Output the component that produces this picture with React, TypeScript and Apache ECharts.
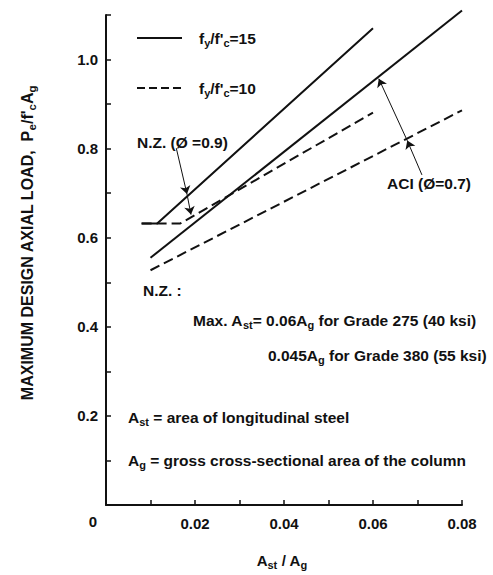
import React, { useEffect, useRef } from 'react';
import * as echarts from 'echarts';

const SERIES_15 = "fy/f'c=15";
const SERIES_10 = "fy/f'c=10";

// N.Z. (phi = 0.9) curves
const nzX15 = [0.008, 0.0115, 0.06];
const nzY15 = [0.632, 0.632, 1.07];
const nzX10 = [0.008, 0.0167, 0.06];
const nzY10 = [0.632, 0.632, 0.881];
// ACI (phi = 0.7) lines
const aciX15 = [0.01, 0.08];
const aciY15 = [0.555, 1.11];
const aciX10 = [0.01, 0.08];
const aciY10 = [0.527, 0.886];

const xTickLabels = ['0.02', '0.04', '0.06', '0.08'];
const yTickLabels = ['0.2', '0.4', '0.6', '0.8', '1.0'];

// arrow polylines (data coords): label -> first line -> second line
const nzArrowX = [0.0158, 0.0182, 0.0191];
const nzArrowY = [0.801, 0.698, 0.652];
const aciArrowX = [0.071, 0.0677, 0.0613];
const aciArrowY = [0.741, 0.818, 0.957];

const INK = '#111';
const FONT = '"Liberation Sans", Arial, Helvetica, sans-serif';
const FS = 15.5;
const SUB = 11;

const makeRich = (fs: number, sub: number) => ({
  n: { fontSize: fs, fontWeight: 'bold', fontFamily: FONT, fill: INK, color: INK },
  s: { fontSize: sub, fontWeight: 'bold', fontFamily: FONT, fill: INK, color: INK, padding: [9, 0, 0, 0] },
});
const rich = makeRich(FS, SUB);

// build rich text: pieces marked with "_" are subscripts
function rt(parts: string[]): string {
  return parts
    .map((p) => (p.startsWith('_') ? `{s|${p.slice(1)}}` : `{n|${p}}`))
    .join('');
}

const pairs = (xs: number[], ys: number[]) => xs.map((x, i) => [x, ys[i]]);

function txt(x: number, y: number, parts: string[], align = 'left', rotation = 0, fs = FS, sub = SUB) {
  return {
    type: 'text',
    x,
    y,
    rotation,
    silent: true,
    style: {
      text: rt(parts),
      rich: makeRich(fs, sub),
      align,
      verticalAlign: 'middle',
      fill: INK,
      fontFamily: FONT,
      fontWeight: 'bold',
      fontSize: fs,
    },
  };
}

export default function App() {
  const ref = useRef<HTMLDivElement>(null);
  useEffect(() => {
    document.body.style.margin = '0';
    const chart = echarts.init(ref.current!, null, { renderer: 'svg' });
    const axisText = { color: INK, fontFamily: FONT, fontWeight: 'bold' as const, fontSize: 15 };
    const arrowSeg = (xs: number[], ys: number[]) => [
      [{ coord: [xs[0], ys[0]] }, { coord: [xs[1], ys[1]] }],
      [{ coord: [xs[1], ys[1]] }, { coord: [xs[2], ys[2]] }],
    ];
    chart.setOption({
      animation: false,
      color: [INK],
      backgroundColor: '#fff',
      grid: { left: 106, right: 31, top: 15, bottom: 70 },
      legend: {
        orient: 'vertical',
        left: 131,
        top: 25,
        itemWidth: 45,
        itemHeight: 14,
        itemGap: 32,
        selectedMode: false,
        itemStyle: { opacity: 0 },
        data: [
          { name: SERIES_15 },
          { name: SERIES_10, lineStyle: { type: [8, 4] } },
        ],
        formatter: (name: string) =>
          name === SERIES_15 ? rt(['f', '_y', "/f'", '_c', '=15']) : rt(['f', '_y', "/f'", '_c', '=10']),
        textStyle: { rich, padding: [0, 0, 0, 12] },
      },
      xAxis: {
        type: 'value',
        min: 0,
        max: 0.08,
        interval: 0.01,
        splitLine: { show: false },
        axisLine: { onZero: false, lineStyle: { color: INK, width: 2 } },
        axisTick: { inside: true, length: 5, lineStyle: { color: INK, width: 1.5 } },
        axisLabel: {
          ...axisText,
          margin: 11,
          formatter: (v: number) => {
            const s = v.toFixed(2);
            return xTickLabels.includes(s) ? s : '';
          },
        },
      },
      yAxis: {
        type: 'value',
        min: 0,
        max: 1.1,
        interval: 0.1,
        splitLine: { show: false },
        axisLine: { onZero: false, lineStyle: { color: INK, width: 2 } },
        axisTick: { inside: true, length: 5, lineStyle: { color: INK, width: 1.5 } },
        axisLabel: {
          ...axisText,
          margin: 8,
          formatter: (v: number) => {
            const s = v.toFixed(1);
            return yTickLabels.includes(s) ? s : '';
          },
        },
      },
      series: [
        {
          name: SERIES_15,
          type: 'line',
          data: pairs(nzX15, nzY15),
          symbol: 'none',
          clip: false,
          silent: true,
          lineStyle: { color: INK, width: 2, type: 'solid' },
        },
        {
          name: SERIES_10,
          type: 'line',
          data: pairs(nzX10, nzY10),
          symbol: 'none',
          clip: false,
          silent: true,
          lineStyle: { color: INK, width: 2, type: [10, 5] },
        },
        {
          name: SERIES_15,
          type: 'line',
          data: pairs(aciX15, aciY15),
          symbol: 'none',
          clip: false,
          silent: true,
          lineStyle: { color: INK, width: 2, type: 'solid' },
          markLine: {
            silent: true,
            symbol: ['none', 'arrow'],
            symbolSize: 8,
            label: { show: false },
            lineStyle: { color: INK, width: 1, type: 'solid' },
            emphasis: { disabled: true },
            data: [...arrowSeg(nzArrowX, nzArrowY), ...arrowSeg(aciArrowX, aciArrowY)],
          },
        },
        {
          name: SERIES_10,
          type: 'line',
          data: pairs(aciX10, aciY10),
          symbol: 'none',
          clip: false,
          silent: true,
          lineStyle: { color: INK, width: 2, type: [10, 5] },
        },
      ],
      graphic: [
        txt(137, 142, ['N.Z. (Ø =0.9)']),
        txt(387, 183, ['ACI (Ø=0.7)']),
        txt(143, 290, ['N.Z. :']),
        txt(193, 320, ['Max. A', '_st', '= 0.06A', '_g', ' for Grade 275 (40 ksi)']),
        txt(268, 355, ['0.045A', '_g', ' for Grade 380 (55 ksi)']),
        txt(128, 417, ['A', '_st', ' = area of longitudinal steel']),
        txt(128, 460, ['A', '_g', ' = gross cross-sectional area of the column']),
        txt(93, 521, ['0'], 'center', 0, 15),
        txt(282, 560, ['A', '_st', ' / A', '_g'], 'center', 0, 15),
        txt(27, 243, ['MAXIMUM DESIGN AXIAL LOAD,  P', '_e', "/f'", '_c', 'A', '_g'], 'center', Math.PI / 2, 16, 11.5),
      ],
    });
    return () => chart.dispose();
  }, []);
  return <div ref={ref} style={{ width: 493, height: 575 }} />;
}
